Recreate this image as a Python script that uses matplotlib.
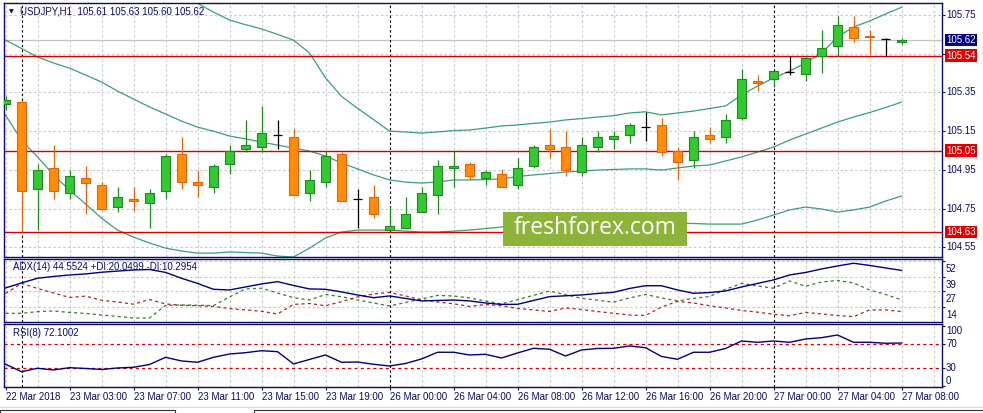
import numpy as np
import matplotlib
matplotlib.use("Agg")
import matplotlib.pyplot as plt
from matplotlib import transforms
from matplotlib.patches import Rectangle
from matplotlib.lines import Line2D

plt.rcParams['font.family'] = ['Liberation Sans', 'DejaVu Sans']

# ---- chart data ----
symbol_header = "USDJPY,H1  105.61 105.63 105.60 105.62"
adx_header = "ADX(14) 44.5524 +DI:20.0499 -DI:10.2954"
rsi_header = "RSI(8) 72.1002"

time_labels = ["22 Mar 2018", "23 Mar 03:00", "23 Mar 07:00", "23 Mar 11:00",
               "23 Mar 15:00", "23 Mar 19:00", "26 Mar 00:00", "26 Mar 04:00",
               "26 Mar 08:00", "26 Mar 12:00", "26 Mar 16:00", "26 Mar 20:00",
               "27 Mar 00:00", "27 Mar 04:00", "27 Mar 08:00"]
day_starts = [1, 24, 48]

opens = [105.29, 105.30, 104.85, 104.96, 104.83, 104.91, 104.87, 104.76, 104.80, 104.78,
         104.84, 105.03, 104.885, 104.86, 104.98, 105.06, 105.07, 105.13, 105.12, 104.83,
         104.89, 105.03, 104.80, 104.81, 104.64, 104.65, 104.73, 104.82, 104.96, 104.98,
         104.91, 104.93, 104.87, 104.97, 105.08, 105.07, 104.94, 105.07, 105.11, 105.13,
         105.17, 105.18, 105.05, 105.00, 105.13, 105.12, 105.22, 105.41, 105.42, 105.455,
         105.445, 105.54, 105.59, 105.69, 105.64, 105.625, 105.61]
highs = [105.33, 105.31, 104.98, 105.08, 104.95, 104.97, 104.89, 104.86, 104.86, 104.85,
         105.03, 105.12, 104.95, 104.98, 105.08, 105.21, 105.28, 105.21, 105.16, 104.95,
         105.05, 105.04, 104.85, 104.87, 104.76, 104.81, 104.86, 105.00, 105.05, 104.99,
         104.95, 104.955, 105.01, 105.08, 105.16, 105.15, 105.12, 105.15, 105.15, 105.19,
         105.25, 105.22, 105.07, 105.15, 105.17, 105.24, 105.47, 105.44, 105.46, 105.54,
         105.54, 105.67, 105.745, 105.745, 105.67, 105.63, 105.63]
lows = [105.26, 104.63, 104.64, 104.80, 104.80, 104.72, 104.745, 104.73, 104.74, 104.65,
        104.80, 104.85, 104.81, 104.83, 104.93, 105.04, 105.04, 105.06, 104.82, 104.79,
        104.86, 104.79, 104.65, 104.70, 104.64, 104.65, 104.73, 104.72, 104.86, 104.90,
        104.87, 104.86, 104.85, 104.96, 105.01, 104.92, 104.92, 105.04, 105.06, 105.09,
        105.10, 105.02, 104.90, 104.96, 105.09, 105.09, 105.21, 105.36, 105.38, 105.44,
        105.41, 105.45, 105.54, 105.61, 105.55, 105.54, 105.60]
closes = [105.31, 104.84, 104.95, 104.84, 104.92, 104.88, 104.75, 104.81, 104.79, 104.83,
          105.02, 104.89, 104.87, 104.97, 105.05, 105.08, 105.14, 105.13, 104.82, 104.90,
          105.02, 104.79, 104.80, 104.72, 104.66, 104.72, 104.83, 104.97, 104.97, 104.92,
          104.94, 104.86, 104.96, 105.07, 105.06, 104.95, 105.08, 105.12, 105.125, 105.18,
          105.17, 105.04, 104.99, 105.12, 105.11, 105.21, 105.42, 105.40, 105.46, 105.455,
          105.53, 105.58, 105.70, 105.63, 105.635, 105.625, 105.62]

bb_upper = [106.06, 106.04, 106.02, 106.00, 105.98, 105.96, 105.94, 105.92, 105.90, 105.87,
            105.85, 105.83, 105.81, 105.765, 105.724, 105.70, 105.678, 105.65, 105.62, 105.554,
            105.425, 105.33, 105.268, 105.21, 105.15, 105.146, 105.14, 105.146, 105.153, 105.156,
            105.166, 105.177, 105.182, 105.19, 105.197, 105.208, 105.215, 105.223, 105.23, 105.244,
            105.25, 105.234, 105.244, 105.254, 105.267, 105.28, 105.337, 105.383, 105.425, 105.46,
            105.502, 105.554, 105.636, 105.688, 105.719, 105.755, 105.79]
bb_middle = [105.621, 105.577, 105.533, 105.502, 105.476, 105.44, 105.404, 105.357, 105.316, 105.275,
             105.239, 105.202, 105.171, 105.15, 105.125, 105.11, 105.094, 105.078, 105.063, 105.047,
             105.022, 104.986, 104.955, 104.924, 104.898, 104.887, 104.882, 104.887, 104.898, 104.898,
             104.90, 104.903, 104.916, 104.924, 104.931, 104.939, 104.944, 104.949, 104.952, 104.955,
             104.955, 104.949, 104.96, 104.97, 104.975, 104.996, 105.017, 105.042, 105.068, 105.104,
             105.135, 105.166, 105.197, 105.223, 105.246, 105.272, 105.30]
bb_lower = [105.233, 105.104, 105.017, 104.924, 104.846, 104.774, 104.701, 104.639, 104.603, 104.572,
            104.546, 104.531, 104.52, 104.52, 104.526, 104.523, 104.52, 104.505, 104.50, 104.546,
            104.598, 104.629, 104.639, 104.639, 104.639, 104.634, 104.629, 104.629, 104.634, 104.639,
            104.647, 104.655, 104.66, 104.66, 104.665, 104.668, 104.67, 104.67, 104.673, 104.675,
            104.675, 104.675, 104.675, 104.673, 104.67, 104.67, 104.67, 104.691, 104.717, 104.743,
            104.758, 104.748, 104.732, 104.743, 104.758, 104.789, 104.815]

adx = [29.9, 34.1, 38.0, 39.5, 40.75, 41.6, 43.0, 44.0, 44.9, 45.3,
       42.9, 38.0, 33.7, 28.8, 28.25, 30.75, 33.25, 35.2, 32.0, 29.1,
       28.8, 26.6, 24.1, 21.8, 23.25, 21.2, 19.1, 19.5, 19.9, 19.1,
       17.4, 16.2, 16.3, 19.5, 22.7, 23.4, 24.1, 25.3, 26.3, 29.5,
       31.8, 31.75, 28.25, 25.5, 26.1, 27.4, 30.75, 33.7, 36.6, 40.75,
       42.8, 45.75, 48.25, 50.5, 48.7, 46.6, 44.55]
plus_di = [8.8, 8.8, 10.2, 10.75, 9.5, 8.7, 7.4, 6.2, 4.9, 4.9,
           15.3, 15.75, 15.5, 15.2, 22.4, 29.1, 29.7, 25.75, 21.8, 19.9,
           24.5, 22.6, 19.9, 17.4, 14.9, 17.8, 20.75, 23.7, 23.25, 21.6,
           19.1, 16.6, 20.2, 23.7, 27.4, 24.3, 21.3, 19.7, 18.0, 21.6,
           24.5, 21.6, 19.1, 21.2, 22.8, 28.8, 33.7, 31.6, 29.7, 35.75,
           31.3, 34.9, 36.2, 34.1, 28.25, 24.5, 20.05]
minus_di = [25.3, 33.7, 29.5, 25.75, 22.0, 23.1, 19.7, 18.25, 16.4, 20.3,
            16.6, 15.5, 15.1, 14.5, 12.8, 11.6, 10.5, 8.25, 16.2, 17.0,
            15.1, 18.5, 22.4, 24.9, 26.2, 23.25, 20.1, 18.25, 16.75, 14.5,
            16.2, 15.1, 12.8, 11.6, 10.3, 13.25, 12.0, 10.3, 8.8, 7.4,
            7.0, 14.1, 18.7, 17.4, 15.1, 13.25, 11.2, 9.75, 8.0, 6.8,
            9.5, 8.25, 7.0, 6.0, 11.6, 11.6, 10.3]
rsi = [36.8, 24.3, 30.0, 27.2, 31.0, 29.7, 28.0, 30.5, 31.7, 36.3,
       48.3, 42.2, 40.0, 48.3, 53.8, 56.0, 59.3, 57.7, 37.2, 44.7,
       52.2, 40.0, 40.5, 36.7, 33.8, 38.0, 45.5, 56.7, 56.7, 52.2,
       53.3, 47.2, 55.5, 63.3, 61.7, 50.5, 60.5, 63.0, 63.3, 67.2,
       64.3, 49.7, 45.0, 56.7, 56.7, 63.0, 75.5, 73.3, 75.5, 73.3,
       78.8, 81.0, 85.5, 73.3, 73.3, 71.7, 72.1]

price_ticks = [105.75, 105.55, 105.35, 105.15, 104.95, 104.75, 104.55]
price_labels = ["105.75", "", "105.35", "105.15", "104.95", "104.75", "104.55"]
sr_levels = [105.54, 105.05, 104.63]
bid_price = 105.62
adx_ticks = [52, 39, 27, 14]
rsi_ticks = [100, 70, 30, 0]
rsi_levels = [70, 30]

# ---- styling ----
W, H = 983, 413
NAVY = '#0b0b66'
GRID = '#c8c8c8'
BAND = '#3c9f73'
RED = '#d40000'
BULL_FILL, BULL_EDGE = '#34c934', '#1f8a1f'
BEAR_FILL, BEAR_EDGE = '#ff8c0a', '#e8620c'


def fig_rect(x0, y0, x1, y1):
    return [x0 / W, 1 - y1 / H, (x1 - x0) / W, (y1 - y0) / H]


fig = plt.figure(figsize=(W / 100, H / 100), dpi=100)
fig.patch.set_facecolor('white')

ax = fig.add_axes(fig_rect(4, 3, 941.7, 256.7))
ax_adx = fig.add_axes(fig_rect(4, 259.3, 941.7, 321.7))
ax_rsi = fig.add_axes(fig_rect(4, 324, 941.7, 386.7))

x = np.arange(len(closes))
xlim = (-0.094, 58.51)

o = np.array(opens)
h = np.array(highs)
lo = np.array(lows)
c = np.array(closes)

for a in (ax, ax_adx, ax_rsi):
    a.set_xlim(*xlim)
    a.set_facecolor('white')
    for s in a.spines.values():
        s.set_color(NAVY)
        s.set_linewidth(1.0)
    for gx in np.arange(0, xlim[1], 2):
        a.axvline(gx, color=GRID, lw=0.8, ls=(0, (2.2, 2.2)), zorder=0)
    for d in day_starts:
        a.axvline(d, color='black', lw=0.8, ls=(0, (2.2, 2.2)), zorder=1)
    a.tick_params(axis='both', which='both', colors=NAVY, labelcolor=NAVY,
                  length=2.5, width=0.8, direction='out')
    a.yaxis.tick_right()
    a.set_yticklabels([])

# ---- main price panel ----
ax.set_ylim(104.5016, 105.812)
ax.set_yticks(price_ticks)
ax.set_yticklabels([])
ax.set_xticks([])
for p in price_ticks:
    ax.axhline(p, color=GRID, lw=0.8, ls=(0, (2.2, 2.2)), zorder=0)
ax.axhline(bid_price, color='#c4c4c4', lw=0.9, zorder=0.5)

ax.plot(x, bb_upper, color=BAND, lw=0.9, zorder=2)
ax.plot(x, bb_middle, color=BAND, lw=0.9, zorder=2)
ax.plot(x, bb_lower, color=BAND, lw=0.9, zorder=2)

for lvl in sr_levels:
    ax.axhline(lvl, color=RED, lw=1.0, zorder=2.5)

up = c > o
dn = c < o
flat = c == o
body_w = 0.62
ax.vlines(x[up], lo[up], h[up], color=BULL_EDGE, lw=0.9, zorder=3)
ax.vlines(x[dn], lo[dn], h[dn], color=BEAR_EDGE, lw=0.9, zorder=3)
ax.vlines(x[flat], lo[flat], h[flat], color='black', lw=0.9, zorder=3)
ax.bar(x[up], (c - o)[up], bottom=o[up], width=body_w, color=BULL_FILL,
       edgecolor=BULL_EDGE, lw=0.8, zorder=4)
ax.bar(x[dn], (o - c)[dn], bottom=c[dn], width=body_w, color=BEAR_FILL,
       edgecolor=BEAR_EDGE, lw=0.8, zorder=4)
ax.hlines(c[flat], x[flat] - body_w / 2, x[flat] + body_w / 2, color='black',
          lw=0.9, zorder=4)

# header
fig.text(9 / W, 1 - 12 / H, "\u25bc", fontsize=4.5, color=NAVY, va='center',
         family=['DejaVu Sans'])
fig.text(20.5 / W, 1 - 12 / H, symbol_header, fontsize=7, color=NAVY, va='center')


def right_label(a, y, text, dy_px=0.0, box=None):
    tr = transforms.blended_transform_factory(fig.transFigure, a.transData)
    tr = tr + transforms.ScaledTranslation(0, -dy_px / 100, fig.dpi_scale_trans)
    kw = {}
    col = NAVY
    if box is not None:
        kw['bbox'] = dict(boxstyle='square,pad=0.12', fc=box, ec='none')
        col = 'white'
    a.text(946 / W, y, text, transform=tr, fontsize=7, color=col, va='center',
           ha='left', clip_on=False, **kw)


for p, lab in zip(price_ticks, price_labels):
    if lab:
        right_label(ax, p, lab)
right_label(ax, bid_price, "%.2f" % bid_price, box='#000080')
for lvl in sr_levels:
    right_label(ax, lvl, "%.2f" % lvl, box='#e10000')

# ---- ADX panel ----
ax_adx.set_ylim(1.8, 53.8)
ax_adx.set_yticks(adx_ticks)
ax_adx.set_yticklabels([])
ax_adx.set_xticks([])
for t in adx_ticks:
    ax_adx.axhline(t, color=GRID, lw=0.8, ls=(0, (2.2, 2.2)), zorder=0)
ax_adx.plot(x, adx, color='#000080', lw=1.0, zorder=3)
ax_adx.plot(x, plus_di, color='#2f7f2f', lw=0.9, ls=(0, (2.5, 2.5)), zorder=2)
ax_adx.plot(x, minus_di, color='#b22222', lw=0.9, ls=(0, (2.5, 2.5)), zorder=2)
ax_adx.text(9.3 / 937.7, 1 - 7.4 / 62.4, adx_header, transform=ax_adx.transAxes,
            fontsize=7, color=NAVY, va='center', ha='left')
for t in adx_ticks:
    right_label(ax_adx, t, str(t), dy_px=7.5)

# ---- RSI panel ----
ax_rsi.set_ylim(-0.7, 103.8)
ax_rsi.set_yticks(rsi_ticks)
ax_rsi.set_yticklabels([])
for lvl in rsi_levels:
    ax_rsi.axhline(lvl, color=RED, lw=0.9, ls=(0, (2.5, 2.5)), zorder=1)
ax_rsi.plot(x, rsi, color='#000080', lw=1.0, zorder=3)
ax_rsi.text(9.3 / 937.7, 1 - 9.3 / 62.7, rsi_header, transform=ax_rsi.transAxes,
            fontsize=7, color=NAVY, va='center', ha='left')
rsi_shift = {100: 4.7, 70: 0.0, 30: 0.0, 0: -5.6}
for t in rsi_ticks:
    right_label(ax_rsi, t, str(t), dy_px=rsi_shift[t])

ax_rsi.set_xticks(x[::4])
ax_rsi.set_xticklabels(time_labels, fontsize=7, color=NAVY)
for lab in ax_rsi.get_xticklabels():
    lab.set_horizontalalignment('left')
ax_rsi.tick_params(axis='x', length=2.5, pad=1.5)

# ---- watermark ----
fig.add_artist(Rectangle((502.7 / W, 1 - 245.7 / H), 184.6 / W, 33.4 / H,
                         transform=fig.transFigure, facecolor='#8db33a',
                         edgecolor='none', zorder=10))
fig.text(595 / W, 1 - 228.5 / H, "freshforex.com", fontsize=16.5, color='white',
         ha='center', va='center', family=['Open Sans', 'DejaVu Sans'], zorder=11)

# ---- bottom tab strip ----
fig.add_artist(Line2D([0, 1], [1 - 406.5 / H] * 2, transform=fig.transFigure,
                      color='#d8d8d8', lw=0.8))
for x0, x1 in [(0, 175), (254, 983)]:
    fig.add_artist(Rectangle((x0 / W, -0.02), (x1 - x0) / W, 0.02 + 3.5 / H,
                             transform=fig.transFigure, facecolor='white',
                             edgecolor='#333333', lw=0.8))

fig.savefig("out.png", dpi=100, facecolor='white')
